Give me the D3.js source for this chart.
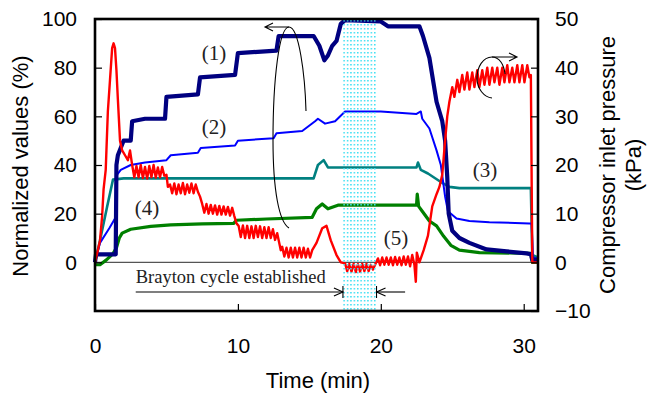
<!DOCTYPE html>
<html>
<head>
<meta charset="utf-8">
<script src="https://cdn.jsdelivr.net/npm/d3@7"></script>
<style>
  body { margin: 0; background: #fff; }
  svg { display: block; }
  .tick text { font-family: "Liberation Sans", Arial, sans-serif; font-size: 21px; fill: #000; }
  .lbl { font-family: "Liberation Serif", "Times New Roman", serif; fill: #222; }
</style>
</head>
<body>
<div id="chart"></div>
<script>
// time ticks and axis ticks
const timeTicks = [0, 10, 20, 30]
const leftTicks = [0, 20, 40, 60, 80, 100]
const rightTicks = [-10, 0, 10, 20, 30, 40, 50]
const braytonWindow = [17.35, 19.7]   // min, shaded band
const braytonStart = 2.85

// [time (min), normalized value (%)]
const line1 = [[0,0],[0.07,3.3],[1.45,3.3],[1.5,40],[1.6,44],[1.8,47],[2.0,50],[2.5,50],[2.6,58],[3.5,59],[4.9,59],[5.0,68],[7.2,69],
  [7.35,76],[9.8,77],[10.0,86],[12.7,87],[12.85,93],[15.3,93],[15.7,89],[16.05,83],[16.3,85],[16.6,89],[16.9,91],[17.2,98],[17.5,99.5],
  [20,99],[20.5,97],[22.7,97],[22.95,93],[23.4,84],[23.9,66],[24.1,62],[24.3,58],[24.5,50],[24.65,35],[24.75,20],[25.0,13],[25.5,10],
  [26.2,8],[27.4,5.3],[28.8,4.5],[30.2,3.7],[30.5,3.3],[30.6,1],[31,1]]
const line2 = [[0,0],[0.35,8],[1.0,14],[1.4,18],[1.47,20],[1.55,36],[1.8,38],[2.5,40],[3.5,41],[5.0,42],[5.3,44],[7.2,45],[7.4,47],
  [9.8,48],[10.0,50],[12.5,51],[12.7,53],[14.5,54],[15.4,58],[15.6,59],[16.1,57],[16.8,58],[17.5,62],[20,62],[22.5,61],[22.8,62],
  [22.9,59],[23.4,55],[23.9,46],[24.2,40],[24.5,27],[24.7,21],[25.3,18],[26.2,17],[27.6,16.5],[30.4,16],[30.55,16],[30.65,2],[31,1.5]]
const line3 = [[0,0],[0.35,9],[0.84,22.6],[1.26,34],[2,34.5],[15.3,34.5],[15.6,40],[16.0,42],[16.3,39],[17,39],[22.5,39],[22.6,41],
  [22.8,38],[23.3,36.5],[24.2,33],[24.8,31],[25.5,30.5],[30.5,30.5],[30.6,3],[31,2]]
const line4 = [[0,-1],[0.35,-1],[0.8,1],[1.25,3.5],[1.5,6],[1.7,10],[1.9,12],[2.5,13.6],[3.9,14.8],[5.3,15.4],[7.5,15.8],[9.7,16],
  [9.9,17.3],[12,17.8],[15.2,18.5],[15.5,22],[15.9,24],[16.3,22],[17,23.5],[22.5,23.5],[22.55,28],[22.65,23],[22.9,21],[23.4,17],
  [23.9,15],[24.4,10.7],[24.9,7],[25.5,5],[26.9,4],[30.5,3.7],[30.6,0],[31,0]]
// [time (min), compressor inlet pressure (kPa)]
const pressure = [[0,0],[0.2,2.5],[0.35,4.5],[0.5,9.5],[0.6,15],[0.75,19],[0.8,23],[0.9,31],[1.05,37.5],[1.2,44],[1.3,45],[1.4,44],
  [1.5,39.5],[1.6,33.5],[1.75,25],[1.9,23],[2.1,22],[2.3,21],[2.45,23],[2.6,20],
  [2.75,17.5],[2.9,19.8],[3.05,17.5],[3.2,20],[3.35,17.3],[3.5,19.6],[3.65,17.2],[3.8,19.8],[3.95,17.5],[4.1,20],[4.25,17.4],
  [4.4,19.5],[4.55,17.5],[4.7,19.6],[4.85,17.8],[5.0,18],[5.1,15.5],
  [5.25,16],[5.4,14.2],[5.55,16.2],[5.7,14],[5.85,16],[6.0,14.2],[6.15,16.3],[6.3,14],[6.45,16],[6.6,14.3],[6.75,16.2],[6.9,14.2],
  [7.05,16],[7.2,14.5],[7.35,13.5],
  [7.5,12],[7.65,10.2],[7.8,12],[7.95,10],[8.1,11.8],[8.25,10],[8.4,11.7],[8.55,9.8],[8.7,11.6],[8.85,9.8],[9.0,11.5],[9.15,9.8],
  [9.3,11.4],[9.45,9.6],[9.6,11.2],[9.75,9.5],[9.9,8],
  [10.05,7.5],[10.2,5.2],[10.35,7.6],[10.5,5],[10.65,7.5],[10.8,5],[10.95,7.4],[11.1,5],[11.25,7.5],[11.4,5.2],[11.55,7.4],[11.7,5],
  [11.85,7.2],[12.0,5],[12.15,7.2],[12.3,5],[12.45,6.8],[12.6,4.6],[12.75,6],[13.0,2.5],
  [13.1,3.2],[13.25,1.2],[13.4,3],[13.55,1],[13.7,3],[13.85,1],[14.0,3],[14.15,1],[14.3,3],[14.45,1],[14.6,3],[14.75,1],[14.9,2.8],
  [15.05,1],[15.2,2.5],
  [15.5,4],[15.9,7],[16.2,7.5],[16.5,4.5],[16.9,1.5],[17.2,0],
  [17.5,-0.2],[17.65,-1.8],[17.8,-0.3],[17.95,-1.9],[18.1,-0.3],[18.25,-2],[18.4,-0.4],[18.55,-1.9],[18.7,-0.3],[18.85,-1.8],
  [19.0,-0.3],[19.15,-1.8],[19.3,-0.5],[19.45,-1.5],[19.6,-0.5],
  [19.8,0.8],[19.95,-0.6],[20.1,1],[20.25,-0.5],[20.4,1],[20.55,-0.5],[20.7,1],[20.85,-0.6],[21.0,1.1],[21.15,-0.5],[21.3,1],
  [21.45,-0.6],[21.6,1.2],[21.75,-0.5],[21.9,1.2],[22.05,-0.8],[22.2,1.5],[22.35,-0.5],[22.45,-4],[22.52,2],[22.7,0],
  [23.0,2.5],[23.3,5.5],[23.6,11.5],[23.9,14],[24.1,15.5],
  [24.3,18],[24.5,25],[24.65,30],[24.8,33],[25.0,36],[25.15,34],[25.35,37.5],[25.5,35],[25.7,38.5],[25.85,35.5],[26.05,39],[26.2,35.5],
  [26.4,39],[26.55,36],[26.75,39.5],[26.9,36],[27.1,39.5],[27.25,36.5],[27.45,40],[27.6,36.5],[27.8,40],[27.95,37],[28.15,40],
  [28.3,36.5],[28.5,40],[28.65,37],[28.85,40.5],[29.0,37],[29.2,40],[29.35,37],[29.55,40.5],[29.7,37],[29.9,40.5],[30.05,37],
  [30.25,40.5],[30.4,38],[30.5,38.5],[30.6,0],[31,0]]

const width = 649
const height = 394
const margin = {top: 19, right: 111, bottom: 83, left: 95}

const svg = d3.select('#chart')
  .append('svg')
  .attr('width', width)
  .attr('height', height)

const x = d3.scaleLinear().domain([0, 31]).range([margin.left, width - margin.right])
const yL = d3.scaleLinear().domain([-20, 100]).range([height - margin.bottom, margin.top])
const yR = d3.scaleLinear().domain([-10, 50]).range([height - margin.bottom, margin.top])

const lineL = d3.line().x(d => x(d[0])).y(d => yL(d[1]))
const lineR = d3.line().x(d => x(d[0])).y(d => yR(d[1]))

// zero line
svg.append('line')
  .attr('x1', x(0)).attr('x2', x(31))
  .attr('y1', yL(0)).attr('y2', yL(0))
  .attr('stroke', '#555').attr('stroke-width', 1.2)

const series = [
  {data: line4, color: '#008000', w: 3.2},
  {data: line3, color: '#008080', w: 2.6},
  {data: line2, color: '#0000ff', w: 2},
  {data: line1, color: '#000080', w: 4.2},
]
series.forEach(s => {
  svg.append('path')
    .attr('d', lineL(s.data))
    .attr('fill', 'none')
    .attr('stroke', s.color)
    .attr('stroke-width', s.w)
    .attr('stroke-linejoin', 'round')
})
svg.append('path')
  .attr('d', lineR(pressure))
  .attr('fill', 'none')
  .attr('stroke', '#ff0000')
  .attr('stroke-width', 2.4)
  .attr('stroke-linejoin', 'round')

// dotted band
const defs = svg.append('defs')
const pat = defs.append('pattern')
  .attr('id', 'dots')
  .attr('patternUnits', 'userSpaceOnUse')
  .attr('width', 3.4).attr('height', 4)
pat.append('rect').attr('width', 1.5).attr('height', 1.5).attr('fill', '#3fdff2')

svg.append('rect')
  .attr('x', x(braytonWindow[0]))
  .attr('y', margin.top)
  .attr('width', x(braytonWindow[1]) - x(braytonWindow[0]))
  .attr('height', height - margin.bottom - margin.top)
  .attr('fill', 'url(#dots)')

// axes
const gL = svg.append('g')
  .attr('transform', `translate(${margin.left},0)`)
  .call(d3.axisLeft(yL).tickValues(leftTicks).tickSize(-7).tickPadding(18))
const gR = svg.append('g')
  .attr('transform', `translate(${width - margin.right},0)`)
  .call(d3.axisRight(yR).tickValues(rightTicks).tickSize(-7).tickPadding(17))
const gB = svg.append('g')
  .attr('transform', `translate(0,${height - margin.bottom})`)
  .call(d3.axisBottom(x).tickValues(timeTicks).tickSize(-7).tickPadding(27))
;[gL, gR, gB].forEach(g => {
  g.select('.domain').remove()
  g.selectAll('.tick line').attr('stroke', '#000').attr('stroke-width', 1.2)
})

// frame
svg.append('rect')
  .attr('x', margin.left).attr('y', margin.top)
  .attr('width', width - margin.right - margin.left)
  .attr('height', height - margin.bottom - margin.top)
  .attr('fill', 'none').attr('stroke', '#000').attr('stroke-width', 2.6)

// axis titles
const sans = '"Liberation Sans", Arial, sans-serif'
svg.append('text')
  .attr('transform', 'translate(28,166) rotate(-90)')
  .attr('text-anchor', 'middle')
  .style('font-family', sans).style('font-size', '22px')
  .text('Normalized values (%)')
svg.append('text')
  .attr('x', 318).attr('y', 388)
  .attr('text-anchor', 'middle')
  .style('font-family', sans).style('font-size', '22px')
  .text('Time (min)')
svg.append('text')
  .attr('transform', 'translate(615,165) rotate(-90)')
  .attr('text-anchor', 'middle')
  .style('font-family', sans).style('font-size', '22px')
  .text('Compressor inlet pressure')
svg.append('text')
  .attr('transform', 'translate(641,165) rotate(-90)')
  .attr('text-anchor', 'middle')
  .style('font-family', sans).style('font-size', '22px')
  .text('(kPa)')

// curve labels
const labels = [
  {t: '(1)', x: 214, y: 60},
  {t: '(2)', x: 214, y: 134},
  {t: '(3)', x: 485, y: 177},
  {t: '(4)', x: 147, y: 215},
  {t: '(5)', x: 396, y: 245},
]
svg.selectAll('.cl').data(labels).join('text')
  .attr('class', 'lbl')
  .attr('x', d => d.x).attr('y', d => d.y)
  .attr('text-anchor', 'middle')
  .style('font-size', '21px')
  .text(d => d.t)

// Brayton annotation
const yb = 292
svg.append('text')
  .attr('class', 'lbl')
  .attr('x', x(braytonStart)).attr('y', 283)
  .style('font-size', '18.5px')
  .text('Brayton cycle established')
const ann = svg.append('g').attr('fill', 'none').attr('stroke', '#000').attr('stroke-width', 1.1)
const bx0 = x(braytonWindow[0]), bx1 = x(braytonWindow[1])
ann.append('line').attr('x1', x(braytonStart)).attr('x2', bx0).attr('y1', yb).attr('y2', yb)
ann.append('path').attr('d', `M${bx0 - 9},${yb - 4}L${bx0},${yb}L${bx0 - 9},${yb + 4}`)
ann.append('line').attr('x1', bx0).attr('x2', bx0).attr('y1', yb - 6).attr('y2', yb + 6)
ann.append('line').attr('x1', bx1).attr('x2', bx1).attr('y1', yb - 6).attr('y2', yb + 6)
ann.append('line').attr('x1', bx1).attr('x2', x(21.7)).attr('y1', yb).attr('y2', yb)
ann.append('path').attr('d', `M${bx1 + 9},${yb - 4}L${bx1},${yb}L${bx1 + 9},${yb + 4}`)

// grouping ellipses with arrows
ann.append('path').attr('d', 'M306,111 C305,75 299,27 289,27 C279,27 273,80 273,140 C273,190 279,222 289,228')
ann.append('path').attr('d', 'M289,27 L265,27 M273,23 L265,27 L273,31')
ann.append('path').attr('d', 'M505,74 C504,64 499,57 492,57 C483,57 477,67 477,78 C477,89 484,97 492,98')
ann.append('path').attr('d', 'M492,57 L517,57 M509,53 L517,57 L509,61')
</script>
</body>
</html>
